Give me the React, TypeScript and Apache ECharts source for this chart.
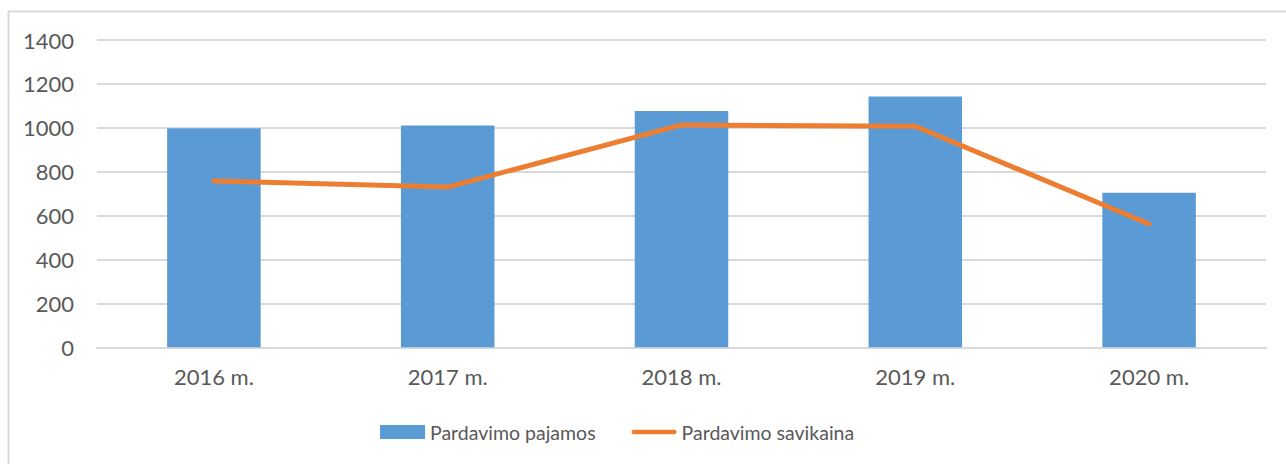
import React, { useEffect, useRef } from "react";
import * as echarts from "echarts";

const categories = ["2016 m.", "2017 m.", "2018 m.", "2019 m.", "2020 m."];
const pajamos = [998, 1010, 1076, 1143, 704];
const savikaina = [758, 730, 1013, 1007, 562];
const seriesNames = ["Pardavimo pajamos", "Pardavimo savikaina"];

const FONT = "Lato";
const TEXT = "#595959";
const GRID = "#d9d9d9";

export default function App() {
  const ref = useRef<HTMLDivElement>(null);
  useEffect(() => {
    document.body.style.margin = "0";
    const chart = echarts.init(ref.current!, null, { renderer: "svg" });
    chart.setOption({
      animation: false,
      backgroundColor: "#ffffff",
      textStyle: { fontFamily: FONT },
      graphic: [
        {
          type: "line",
          shape: { x1: 8, y1: 11.5, x2: 1286, y2: 11.5 },
          style: { stroke: GRID, lineWidth: 2 },
          silent: true,
        },
        {
          type: "line",
          shape: { x1: 8.5, y1: 11, x2: 8.5, y2: 464 },
          style: { stroke: GRID, lineWidth: 2 },
          silent: true,
        },
      ],
      grid: { left: 97, right: 20, top: 40, bottom: 116.7, containLabel: false },
      legend: {
        left: 375,
        top: 417,
        itemWidth: 45,
        itemHeight: 14,
        itemGap: 36,
        textStyle: { color: TEXT, fontSize: 19.5, fontFamily: FONT },
        data: [
          { name: seriesNames[0], icon: "rect" },
          {
            name: seriesNames[1],
            icon: "path://M2.5,0L46.5,0A2.5,2.5,0,0,1,46.5,5L2.5,5A2.5,2.5,0,0,1,2.5,0Z",
          },
        ],
      },
      xAxis: {
        type: "category",
        data: categories,
        axisTick: { show: false },
        axisLine: { lineStyle: { color: GRID, width: 2 } },
        axisLabel: { color: TEXT, fontSize: 22, fontFamily: FONT, margin: 18 },
      },
      yAxis: {
        type: "value",
        min: 0,
        max: 1400,
        interval: 200,
        axisLine: { show: false },
        axisTick: { show: false },
        splitLine: { lineStyle: { color: GRID, width: 2 } },
        axisLabel: {
          color: TEXT,
          fontSize: 22,
          fontFamily: FONT,
          margin: 23,
          formatter: (v: number) => String(v),
        },
      },
      series: [
        {
          name: seriesNames[0],
          type: "bar",
          data: pajamos,
          barWidth: "40%",
          itemStyle: { color: "#5B9BD5" },
        },
        {
          name: seriesNames[1],
          type: "line",
          data: savikaina,
          symbol: "none",
          lineStyle: { color: "#ED7D31", width: 5, cap: "round", join: "round" },
          itemStyle: { color: "#ED7D31" },
        },
      ],
    });
    return () => chart.dispose();
  }, []);
  return <div ref={ref} style={{ width: 1286, height: 464 }} />;
}
